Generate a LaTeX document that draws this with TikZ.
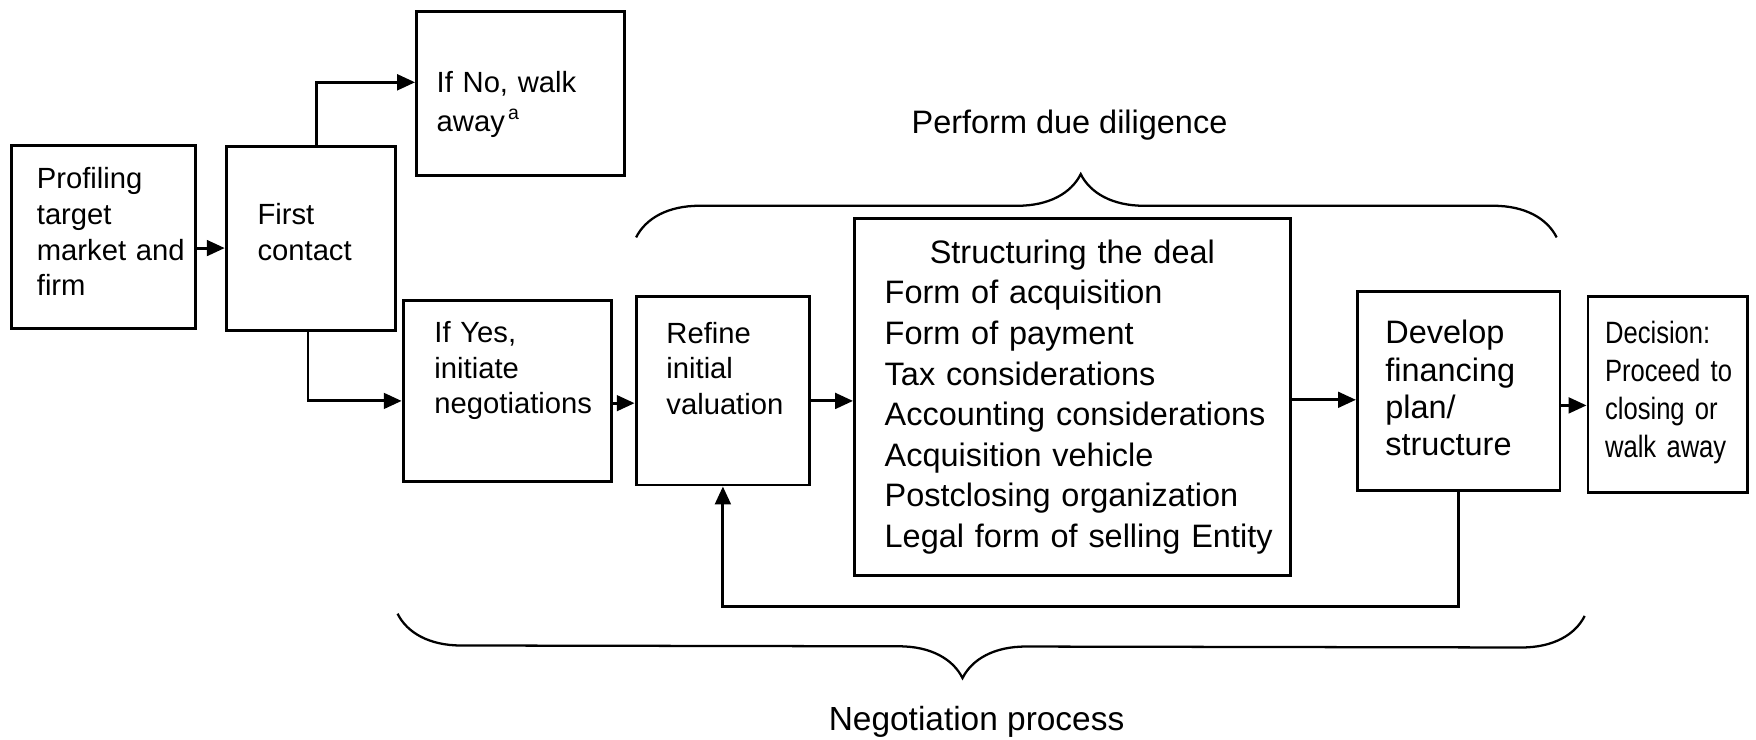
\documentclass[tikz,border=0pt]{standalone}
\usepackage{fontspec}
\setmainfont{Liberation Sans}
\newfontfamily\narrowfont[FakeStretch=0.83]{Liberation Sans}
\usetikzlibrary{arrows.meta,calc,decorations.pathreplacing}

\tikzset{
  flowbox/.style={draw, line width=0.9pt, inner sep=0pt, align=left,
    font=\fontsize{9}{11}\selectfont},
  liftup/.style={execute at end node={\par\vspace*{#1}}},
  arr/.style={line width=0.9pt, -{Triangle[length=5.5pt,width=4.8pt]}},
  curly/.style={decorate, line width=0.7pt,
    decoration={brace, amplitude=19.5pt, aspect=#1}},
  caption/.style={font=\fontsize{10}{12}\selectfont},
}

\begin{document}
\begin{tikzpicture}[x=0.345pt, y=-0.345pt]
\useasboundingbox (0,0) rectangle (1568,660);

% First steps
\node[flowbox, minimum width=56.9pt, minimum height=56.2pt, text width=41.1pt, liftup=3.1pt]
  (profile) at (92.5,211.5) {Profiling\\target\\market~and\\firm};
\node[flowbox, minimum width=52.1pt, minimum height=56.6pt, text width=32.8pt, liftup=3.8pt]
  (contact) at (277.5,213) {First\\contact};
\node[flowbox, minimum width=64.2pt, minimum height=50.7pt, text width=51.8pt, liftup=-6.9pt,
  font=\fontsize{9}{12}\selectfont]
  (walkaway) at (465,83.5) {If No, walk\\away\textsuperscript{\,a}};
\node[flowbox, minimum width=64.2pt, minimum height=55.9pt, text width=44.9pt, liftup=12.4pt]
  (yes) at (453,349) {If Yes,\\initiate\\negotiations};

% Negotiation steps
\node[flowbox, minimum width=53.5pt, minimum height=58pt, text width=34.8pt, liftup=13.8pt]
  (refine) at (645.5,349) {Refine\\initial\\valuation};
\node[flowbox, minimum width=134.2pt, minimum height=110.1pt, text width=128pt,
  font=\fontsize{10}{12.5}\selectfont, execute at begin node={\leftskip=6.2pt}]
  (deal) at (957.5,354.5)
  {\hspace*{-6.2pt}\hfill Structuring the deal\hfill\null\\
   Form of acquisition\\
   Form of payment\\
   Tax considerations\\
   Accounting considerations\\
   Acquisition vehicle\\
   Postclosing organization\\
   Legal form of selling Entity};
\node[flowbox, minimum width=62.4pt, minimum height=61.4pt, text width=45.2pt, liftup=1.7pt,
  font=\fontsize{10}{11.5}\selectfont]
  (finance) at (1302.5,349) {Develop\\financing\\plan/\\structure};
\node[flowbox, minimum width=49pt, minimum height=60.4pt, text width=38.5pt, liftup=1.4pt,
  font=\narrowfont\fontsize{9.5}{11.8}\selectfont]
  (decision) at (1489,352.5) {Decision:\\Proceed~to\\closing~or\\walk~away};

% Arrow start points
\coordinate (profileout) at ($(profile.east)+(0,10)$);
\coordinate (contactup) at ($(contact.north)+(5,0)$);
\coordinate (contactdown) at ($(contact.south)+(-2.5,0)$);
\coordinate (walkawayin) at ($(walkaway.west)+(0,-10)$);
\coordinate (yesin) at ($(yes.west)+(0,9)$);
\coordinate (yesout) at ($(yes.east)+(0,11)$);
\coordinate (refineout) at ($(refine.east)+(0,9)$);
\coordinate (financein) at ($(finance.west)+(0,8)$);
\coordinate (financeout) at ($(finance.east)+(0,13)$);

% Arrows
\draw[arr] (profileout) -- (profileout -| contact.west);
\draw[arr] (contactup) |- (walkawayin);
\draw[arr] (contactdown) |- (yesin);
\draw[arr] (yesout) -- (yesout -| refine.west);
\draw[arr] (refineout) -- (refineout -| deal.west);
\draw[arr] (financein -| deal.east) -- (financein);
\draw[arr] (financeout) -- (financeout -| decision.west);
\draw[arr] (finance.south) -- ++(0,102) -| (refine.south);

% Braces
\draw[curly=0.483] (568,212) -- (1390,212);
\node[caption] (diligence) at (955,112) {Perform due diligence};
\draw[curly=0.524] (1415,550) -- (355,548);
\node[caption, font=\fontsize{10.3}{12}\selectfont] (negotiation) at (872,645) {Negotiation process};

\end{tikzpicture}
\end{document}
